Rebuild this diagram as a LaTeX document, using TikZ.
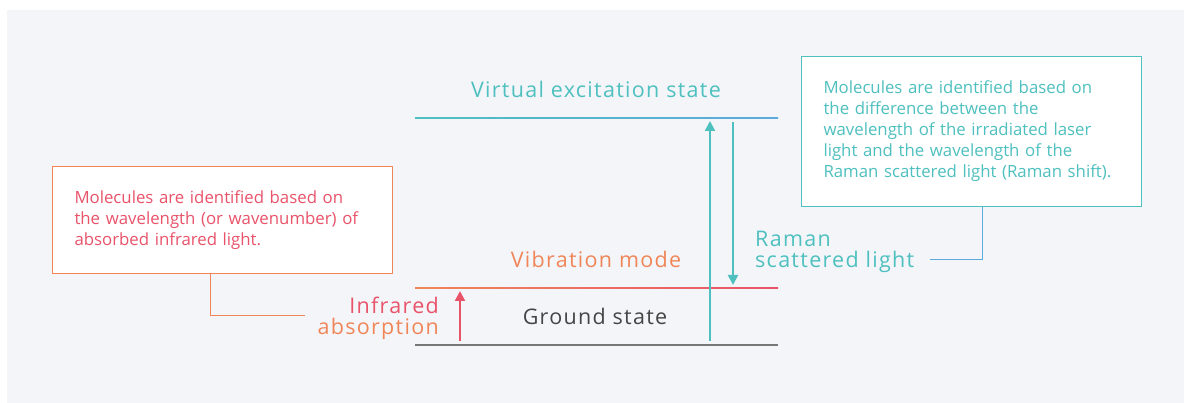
\documentclass[tikz,border=0pt]{standalone}
\usepackage{fontspec}
\setmainfont{Open Sans}
\usetikzlibrary{arrows.meta}
\definecolor{panel}{HTML}{F4F5F9}
\definecolor{pinkred}{HTML}{E9536A}
\definecolor{orng}{HTML}{F08658}
\definecolor{teal}{HTML}{4EC0BF}
\definecolor{skyb}{HTML}{5DAADC}
\definecolor{gline}{HTML}{777777}
\definecolor{gtext}{HTML}{454545}
\newfontfamily\lblfont[LetterSpace=6]{Open Sans}
\tikzset{
  infobox/.style={draw, line width=1pt, fill=white, minimum width=340pt, align=left, inner xsep=22pt, font=\fontsize{16.8}{21}\selectfont, anchor=north west},
  biglabel/.style={font=\lblfont\fontsize{21.5}{21}\selectfont, anchor=base, inner sep=0pt},
  level/.style={line width=1.3pt},
  lead/.style={line width=1pt},
  arr/.style={line width=2pt, -{Triangle[length=10pt,width=10pt]}},
}
\begin{document}
\begin{tikzpicture}[x=1pt,y=-1pt]
\useasboundingbox (0,0) rectangle (1184,403);
\fill[white] (0,0) rectangle (1184,403);
\fill[panel] (7,10) rectangle (1184,403);
% levels
\coordinate (vL) at (415,118); \coordinate (vR) at (778,118);
\coordinate (mL) at (415,288); \coordinate (mR) at (778,288);
\coordinate (gL) at (415,345); \coordinate (gR) at (778,345);
\shade[left color=teal, right color=skyb] (415,117.35) rectangle (778,118.65);
\shade[left color=orng, right color=pinkred] (415,287.35) rectangle (778,288.65);
\draw[level, gline] (gL) -- (gR);
% arrows
\coordinate (irB) at (460,341); \coordinate (irT) at (460,291);
\coordinate (exB) at (710,341); \coordinate (exT) at (710,121);
\coordinate (rsT) at (733,122); \coordinate (rsB) at (733,285);
\draw[arr, pinkred] (irB) -- (irT);
\draw[arr, teal] (exB) -- (exT);
\draw[arr, teal] (rsT) -- (rsB);
% labels
\node[biglabel, text=teal] (virt) at (596,98) {Virtual excitation state};
\node[biglabel, text=orng] (vib) at (596,268) {Vibration mode};
\node[biglabel, text=gtext] (gnd) at (595,325) {Ground state};
\node[biglabel, text=teal, anchor=base west] (ram1) at (755,247) {Raman};
\node[biglabel, text=teal, anchor=base west] (ram2) at (755,268) {scattered light};
\node[biglabel, text=pinkred, anchor=base east] (ir1) at (439,314) {Infrared};
\node[biglabel, text=orng, anchor=base east] (ir2) at (439,335) {absorption};
% boxes
\node[infobox, draw=orng, text=pinkred, minimum height=107pt, text width=296pt] (lbox) at (52,166)
 {Molecules are identified based on\\ the wavelength (or wavenumber) of\\ absorbed infrared light.};
\node[infobox, draw=teal, text=teal, minimum height=150pt, text width=296pt] (rbox) at (801,56)
 {Molecules are identified based on\\ the difference between the\\ wavelength of the irradiated laser\\ light and the wavelength of the\\ Raman scattered light (Raman shift).};
% leaders
\coordinate (lk) at (210,316); \coordinate (lend) at (305,316);
\draw[lead, orng] (lbox.south west -| lk) -- (lk) -- (lend);
\coordinate (rk) at (982,260); \coordinate (rend) at (930,260);
\draw[lead, skyb] (rbox.south west -| rk) -- (rk) -- (rend);
\end{tikzpicture}
\end{document}
